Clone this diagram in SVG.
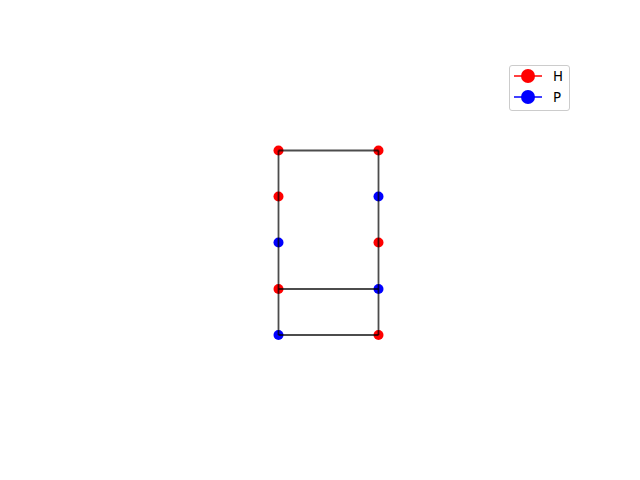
<svg xmlns="http://www.w3.org/2000/svg" width="640" height="480" viewBox="0 0 640 480">
<style>
.h{fill:#ff0000}
.p{fill:#0000ff}
.e{stroke:#000;stroke-opacity:0.7;stroke-width:1.8;fill:none}
.t{font-family:"DejaVu Sans",sans-serif;font-size:13.3px;fill:#000}
</style>
<rect width="640" height="480" fill="#fff"/>
<g id="nodes">
<g id="n0"><circle class="h" cx="278.5" cy="150.5" r="5"/></g>
<g id="n1"><circle class="h" cx="278.5" cy="196.5" r="5"/></g>
<g id="n2"><circle class="p" cx="278.5" cy="242.5" r="5"/></g>
<g id="n3"><circle class="h" cx="278.5" cy="289" r="5"/></g>
<g id="n4"><circle class="p" cx="278.5" cy="335" r="5"/></g>
<g id="n5"><circle class="h" cx="378.5" cy="150.5" r="5"/></g>
<g id="n6"><circle class="p" cx="378.5" cy="196.5" r="5"/></g>
<g id="n7"><circle class="h" cx="378.5" cy="242.5" r="5"/></g>
<g id="n8"><circle class="p" cx="378.5" cy="289" r="5"/></g>
<g id="n9"><circle class="h" cx="378.5" cy="335" r="5"/></g>
</g>
<g id="connectors">
<path class="e" d="M278.5 150.5H378.5"/>
<path class="e" d="M278.5 150.5V335"/>
<path class="e" d="M378.5 150.5V335"/>
<path class="e" d="M278.5 289H378.5"/>
<path class="e" d="M278.5 335H378.5"/>
</g>
<g id="legend">
<rect x="509.5" y="65.5" width="60" height="45" rx="2.5" fill="#fff" fill-opacity="0.8" stroke="#ccc"/>
<path d="M514 76H542" stroke="#ff0000" stroke-width="1.5"/>
<circle class="h" cx="528" cy="76" r="7"/>
<text class="t" x="553" y="81">H</text>
<path d="M514 97H542" stroke="#0000ff" stroke-width="1.5"/>
<circle class="p" cx="528" cy="97" r="7"/>
<text class="t" x="553" y="102">P</text>
</g>
</svg>
